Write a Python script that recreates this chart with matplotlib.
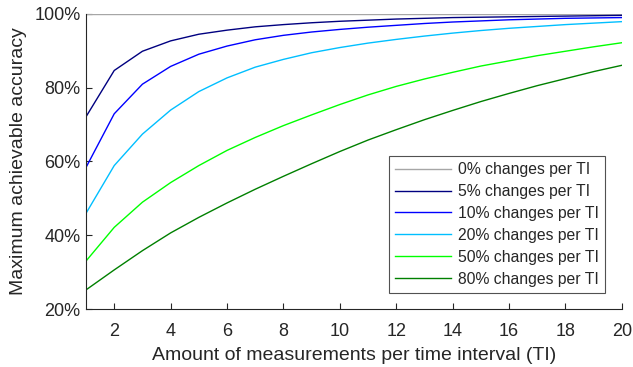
import matplotlib
matplotlib.use("Agg")
import matplotlib.pyplot as plt
from matplotlib.ticker import FuncFormatter

plt.rcParams['font.family'] = ['Liberation Sans', 'DejaVu Sans']

x = list(range(1, 21))
acc_0 = [100.0] * 20
acc_5 = [72.1, 84.6, 89.8, 92.6, 94.4, 95.5, 96.4, 97.0, 97.5, 97.9,
         98.2, 98.5, 98.7, 98.9, 99.0, 99.1, 99.2, 99.3, 99.4, 99.5]
acc_10 = [58.4, 72.9, 80.9, 85.7, 89.0, 91.2, 92.9, 94.1, 95.0, 95.7,
          96.3, 96.8, 97.3, 97.7, 98.0, 98.3, 98.5, 98.7, 98.8, 98.9]
acc_20 = [46.0, 58.9, 67.4, 73.9, 78.9, 82.6, 85.5, 87.6, 89.4, 90.8,
          92.0, 93.0, 93.9, 94.7, 95.4, 96.0, 96.5, 97.0, 97.4, 97.8]
acc_50 = [33.1, 42.2, 49.0, 54.3, 58.9, 63.0, 66.5, 69.7, 72.6, 75.4,
          78.0, 80.3, 82.3, 84.1, 85.8, 87.2, 88.6, 89.8, 91.0, 92.1]
acc_80 = [25.3, 30.7, 35.9, 40.7, 44.9, 48.8, 52.5, 56.0, 59.4, 62.7,
          65.8, 68.6, 71.3, 73.8, 76.2, 78.4, 80.5, 82.4, 84.3, 86.0]

labels = ['0% changes per TI', '5% changes per TI', '10% changes per TI',
          '20% changes per TI', '50% changes per TI', '80% changes per TI']
colors = ['#a6a6a6', '#000080', '#0000ff', '#00bfff', '#00ff00', '#008000']
series = [acc_0, acc_5, acc_10, acc_20, acc_50, acc_80]

fig = plt.figure(figsize=(6.33, 3.67), dpi=100)
ax = fig.add_axes([0.1359, 0.1567, 0.8465, 0.8065])

for ys, c, lab in zip(series, colors, labels):
    ax.plot(x, ys, color=c, lw=1.0, label=lab)

ax.set_xlim(1, 20)
ax.set_ylim(20, 100)
ax.set_xticks(range(2, 21, 2))
ax.set_yticks([20, 40, 60, 80, 100])
ax.yaxis.set_major_formatter(FuncFormatter(lambda v, p: f"{int(v)}%"))

axc = '#262626'
for s in ['top', 'right']:
    ax.spines[s].set_visible(False)
for s in ['left', 'bottom']:
    ax.spines[s].set_color(axc)
    ax.spines[s].set_linewidth(0.8)
ax.tick_params(direction='in', length=4.5, width=0.8, color=axc,
               labelcolor=axc, labelsize=13, pad=4)
ax.tick_params(axis='x', pad=10)

ax.set_xlabel('Amount of measurements per time interval (TI)', fontsize=14, color=axc, labelpad=5)
ax.set_ylabel('Maximum achievable accuracy', fontsize=14, color=axc, labelpad=5)

leg = ax.legend(loc='lower right', bbox_to_anchor=(0.968, 0.056), fontsize=11.3,
                frameon=True, fancybox=False, handlelength=3.6, handletextpad=0.4,
                labelspacing=0.44, borderpad=0.4, borderaxespad=0)
leg.get_frame().set_edgecolor(axc)
leg.get_frame().set_linewidth(0.8)
for t in leg.get_texts():
    t.set_color(axc)

fig.savefig('out.png', dpi=100)
